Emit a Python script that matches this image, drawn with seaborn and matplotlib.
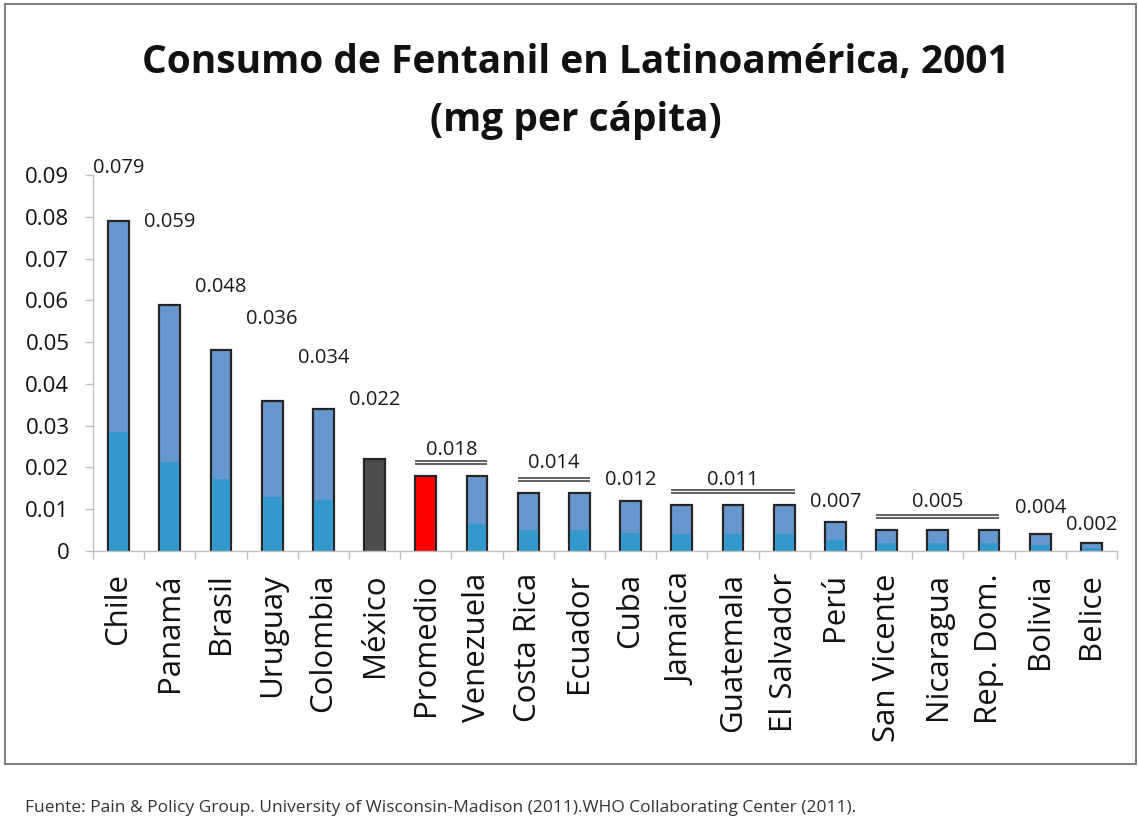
import numpy as np
import pandas as pd
import matplotlib
matplotlib.use("Agg")
import matplotlib.pyplot as plt
from matplotlib.patches import Rectangle
from matplotlib.ticker import FuncFormatter
import seaborn as sns

# data
countries = ["Chile", "Panamá", "Brasil", "Uruguay", "Colombia", "México",
             "Promedio", "Venezuela", "Costa Rica", "Ecuador", "Cuba",
             "Jamaica", "Guatemala", "El Salvador", "Perú", "San Vicente",
             "Nicaragua", "Rep. Dom.", "Bolivia", "Belice"]
values = [0.079, 0.059, 0.048, 0.036, 0.034, 0.022, 0.018, 0.018, 0.014,
          0.014, 0.012, 0.011, 0.011, 0.011, 0.007, 0.005, 0.005, 0.005,
          0.004, 0.002]
y_ticks = [0, 0.01, 0.02, 0.03, 0.04, 0.05, 0.06, 0.07, 0.08, 0.09]

# value labels: (first bar, last bar) sharing one label
label_groups = [(0, 0), (1, 1), (2, 2), (3, 3), (4, 4), (5, 5), (6, 7),
                (8, 9), (10, 10), (11, 13), (14, 14), (15, 17), (18, 18),
                (19, 19)]
# layout: height of each value label (data units)
label_y = [0.0917, 0.0787, 0.0632, 0.0555, 0.0462, 0.0361, 0.0242, 0.0210,
           0.0170, 0.0170, 0.0117, 0.0117, 0.0103, 0.0062]

title_1 = "Consumo de Fentanil en Latinoamérica, 2001"
title_2 = "(mg per cápita)"
footer = ("Fuente: Pain & Policy Group. University of Wisconsin-Madison (2011)."
          "WHO Collaborating Center (2011).")

sns.set_style("white")
plt.rcParams["font.family"] = ["Open Sans", "DejaVu Sans"]

BLUE_TOP = "#6797CF"
BLUE_LOW = "#3399CC"
special = {"México": "#4D4D4D", "Promedio": "#FF0000"}
top_palette = {c: special.get(c, BLUE_TOP) for c in countries}
low_palette = {c: special.get(c, BLUE_LOW) for c in countries}

df = pd.DataFrame({"pais": countries, "valor": values})
df["inferior"] = df["valor"] * 0.36

W, H = 1138, 825
fig = plt.figure(figsize=(W / 100, H / 100), dpi=100)
ax = fig.add_axes([93 / W, 1 - 551 / H, (1117 - 93) / W, (551 - 175) / H])

BAR_W = 0.41
sns.barplot(data=df, x="pais", y="valor", hue="pais", palette=top_palette,
            width=BAR_W, edgecolor="#262626", linewidth=1.6, saturation=1,
            legend=False, ax=ax)
sns.barplot(data=df, x="pais", y="inferior", hue="pais", palette=low_palette,
            width=BAR_W - 0.04, linewidth=0, saturation=1, legend=False, ax=ax)

# value labels and double brackets over groups
for (a, b), ly in zip(label_groups, label_y):
    v = values[a]
    xc = (a + b) / 2
    ax.text(xc, ly, f"{v:.3f}", ha="center", va="center", fontsize=14.5,
            color="#1a1a1a")
    if b > a:
        x0, x1 = a - BAR_W / 2, b + BAR_W / 2
        for dy in (0.0028, 0.0035):
            ax.plot([x0, x1], [v + dy, v + dy], color="#555555", lw=1.3,
                    solid_capstyle="butt")

ax.set_xlim(-0.5, len(countries) - 0.5)
ax.set_ylim(0, 0.09)
ax.set_yticks(y_ticks)
ax.yaxis.set_major_formatter(
    FuncFormatter(lambda v, p: "0" if abs(v) < 1e-9 else f"{v:.2f}"))
ax.set_xticks(range(len(countries)))
ax.set_xticklabels(countries, rotation=90)
ax.set_xticks(np.arange(-0.5, len(countries), 1), minor=True)
ax.set_xlabel("")
ax.set_ylabel("")

ax.tick_params(axis="x", which="major", length=0, pad=16, labelsize=22.5,
               labelcolor="#111111")
ax.tick_params(axis="x", which="minor", length=6, width=1,
               color="#BFBFBF", direction="out", bottom=True)
ax.tick_params(axis="y", length=6, width=1, color="#BFBFBF",
               direction="out", left=True, pad=11, labelsize=16,
               labelcolor="#111111")

for side in ("top", "right"):
    ax.spines[side].set_visible(False)
for side in ("left", "bottom"):
    ax.spines[side].set_color("#BFBFBF")
    ax.spines[side].set_linewidth(1)

fig.text(576 / W, 1 - 63 / H, title_1, ha="center", va="center",
         fontsize=28, fontweight="bold", color="#111111")
fig.text(576 / W, 1 - 120 / H, title_2, ha="center", va="center",
         fontsize=28, fontweight="bold", color="#111111")
fig.text(25 / W, 1 - 808 / H, footer, ha="left", va="center",
         fontsize=12.5, color="#333333")

fig.patches.append(Rectangle((5 / W, 1 - 764 / H), (1136 - 5) / W,
                             (764 - 4) / H, transform=fig.transFigure,
                             fill=False, edgecolor="#7F7F7F", lw=1.5))

fig.savefig("out.png", dpi=100, facecolor="white")
